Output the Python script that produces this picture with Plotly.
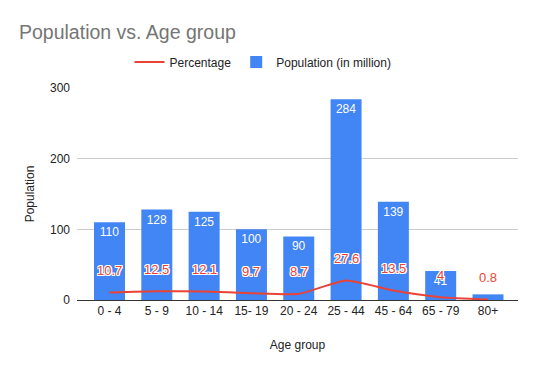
import plotly.graph_objects as go

categories = ["0 - 4", "5 - 9", "10 - 14", "15- 19", "20 - 24", "25 - 44", "45 - 64", "65 - 79", "80+"]
population = [110, 128, 125, 100, 90, 284, 139, 41, 8]
percentage = [10.7, 12.5, 12.1, 9.7, 8.7, 27.6, 13.5, 4, 0.8]
pct_labels = ["10.7", "12.5", "12.1", "9.7", "8.7", "27.6", "13.5", "4", "0.8"]
y_ticks = [0, 100, 200, 300]

BLUE = "#4285f4"
RED = "#ea4335"
FONT = "Liberation Sans, Arial, sans-serif"
OUTLINE = "-1px -1px 0 #fff, 1px -1px 0 #fff, -1px 1px 0 #fff, 1px 1px 0 #fff, 0 1px 0 #fff, 0 -1px 0 #fff, 1px 0 0 #fff, -1px 0 0 #fff"

fig = go.Figure()
fig.add_trace(go.Scatter(
    x=categories, y=percentage, name="Percentage", mode="lines",
    line=dict(color=RED, width=2, shape="spline", smoothing=0.5),
    hoverinfo="skip",
))
fig.add_trace(go.Bar(
    x=categories, y=population, name="Population (in million)",
    marker=dict(color=BLUE, line=dict(width=0)),
    width=0.655,
    text=[str(v) for v in population],
    textposition=["inside"] * (len(population) - 1) + ["outside"],
    insidetextanchor="end",
    insidetextfont=dict(color="white", size=12, family=FONT),
    outsidetextfont=dict(color="white", size=12, family=FONT),
    textangle=0,
    cliponaxis=False,
))

for c, p, t in zip(categories, percentage, pct_labels):
    fig.add_annotation(
        x=c, y=p, text=t, showarrow=False, yshift=22,
        font=dict(color=RED, size=13, family=FONT, shadow=OUTLINE),
    )

fig.update_layout(
    width=538, height=371,
    margin=dict(l=77, r=20, t=88, b=71, autoexpand=False),
    paper_bgcolor="white", plot_bgcolor="white",
    font=dict(family=FONT, size=12, color="#222222"),
    title=dict(text="Population vs. Age group", x=19 / 538, xanchor="left",
               y=1 - 32 / 371, yanchor="middle",
               font=dict(size=19.5, color="#757575", family=FONT)),
    legend=dict(orientation="h", xref="container", yref="container",
                x=263 / 538, xanchor="center", y=1 - 62 / 371, yanchor="middle",
                font=dict(size=12, color="#222222"), itemwidth=30),
    showlegend=True,
    bargap=0.3,
)
fig.update_xaxes(
    range=[-0.687, 8.634], showline=True, linecolor="#333333", linewidth=1,
    showgrid=False, ticks="", tickfont=dict(size=12, color="#222222"),
    title=dict(text="Age group", font=dict(size=12, color="#222222"), standoff=23),
    fixedrange=True, automargin=False,
)
fig.update_yaxes(
    range=[0, 300], tickvals=y_ticks, showgrid=True, gridcolor="#cccccc",
    zeroline=False, ticks="", ticklabelstandoff=6,
    tickfont=dict(size=12, color="#222222"),
    title=dict(text="Population", font=dict(size=12, color="#222222"), standoff=12),
    fixedrange=True, automargin=False,
)

fig.write_html("out.html", config={"displayModeBar": False},
               post_script="document.body.style.margin='0';document.body.style.overflow='hidden';")
